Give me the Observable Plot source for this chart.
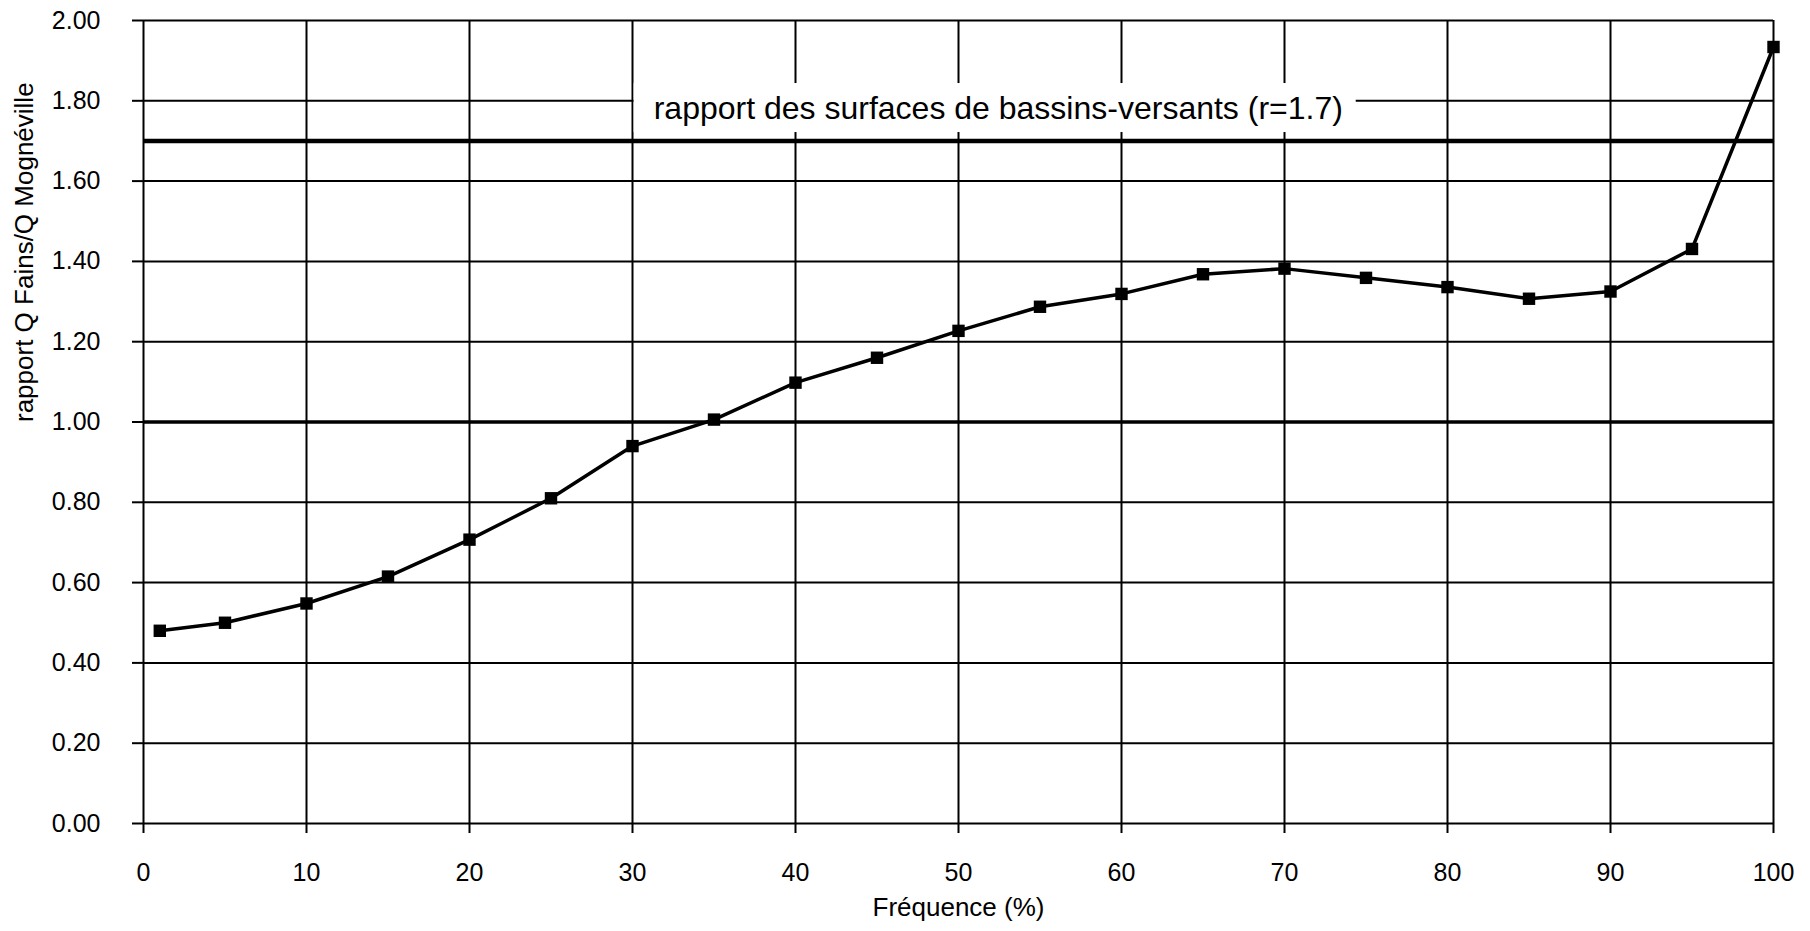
<!DOCTYPE html>
<html>
<head>
<meta charset="utf-8">
<script src="https://cdn.jsdelivr.net/npm/d3@7"></script>
<script src="https://cdn.jsdelivr.net/npm/@observablehq/plot@0.6"></script>
<style>
  html, body { margin: 0; padding: 0; background: white; }
  #chart svg { display: block; }
</style>
</head>
<body>
<div id="chart"></div>
<script>
// Data
const frequence = [1, 5, 10, 15, 20, 25, 30, 35, 40, 45, 50, 55, 60, 65, 70, 75, 80, 85, 90, 95, 100];
const rapport = [0.48, 0.50, 0.548, 0.615, 0.707, 0.81, 0.94, 1.006, 1.098, 1.16, 1.227, 1.287, 1.319, 1.368, 1.382, 1.359, 1.336, 1.307, 1.325, 1.431, 1.934];
const xTicks = [0, 10, 20, 30, 40, 50, 60, 70, 80, 90, 100];
const yTicks = [0, 0.2, 0.4, 0.6, 0.8, 1.0, 1.2, 1.4, 1.6, 1.8, 2.0];
const refValues = [1.0, 1.7];
const refWidths = [3.5, 4.5];
const annotationText = ["rapport des surfaces de bassins-versants (r=1.7)"];
const annotationX = [31.3];
const annotationY = [1.781];
const annotationBox = [{x1: 30.1, x2: 74.4, y1: 1.721, y2: 1.843}];
const xTitle = "Fréquence (%)";
const yTitle = "rapport Q Fains/Q Mognéville";

const points = frequence.map((f, i) => ({f, r: rapport[i]}));
const refs = refValues.map((v, i) => ({v, w: refWidths[i]}));

const chart = Plot.plot({
  width: 1810,
  height: 931,
  marginTop: 20,
  marginLeft: 143,
  marginRight: 37,
  marginBottom: 108,
  style: {
    fontFamily: "'Liberation Sans', Arial, sans-serif",
    fontSize: "25px",
    color: "black",
    background: "white",
    overflow: "visible"
  },
  x: {domain: [0, 100]},
  y: {domain: [0, 2]},
  marks: [
    Plot.ruleX(xTicks, {x: d => d, stroke: "black", strokeWidth: 2}),
    Plot.ruleY(yTicks, {y: d => d, stroke: "black", strokeWidth: 2}),
    Plot.rect(annotationBox, {x1: "x1", x2: "x2", y1: "y1", y2: "y2", fill: "white"}),
    Plot.text(annotationText, {x: (d, i) => annotationX[i], y: (d, i) => annotationY[i], text: d => d, textAnchor: "start", fontSize: 32, fill: "black"}),
    Plot.ruleY(refs, {y: "v", strokeWidth: "w", stroke: "black"}),
    Plot.line(points, {x: "f", y: "r", stroke: "black", strokeWidth: 3.5}),
    Plot.dot(points, {x: "f", y: "r", symbol: "square", r: 7, fill: "black", stroke: "none"}),
    Plot.axisX({ticks: xTicks, tickSize: 10, tickPadding: 30, strokeWidth: 2, label: null, fontSize: 25}),
    Plot.axisY({ticks: yTicks, tickSize: 11, tickPadding: 32, strokeWidth: 2, label: null, fontSize: 25, tickFormat: d => d.toFixed(2)}),
    Plot.text([xTitle], {frameAnchor: "bottom", dy: 84, lineAnchor: "middle", fontSize: 26, fill: "black"}),
    Plot.text([yTitle], {frameAnchor: "left", dx: -119, rotate: -90, lineAnchor: "middle", fontSize: 26, fill: "black"})
  ]
});
document.getElementById("chart").appendChild(chart);
</script>
</body>
</html>
